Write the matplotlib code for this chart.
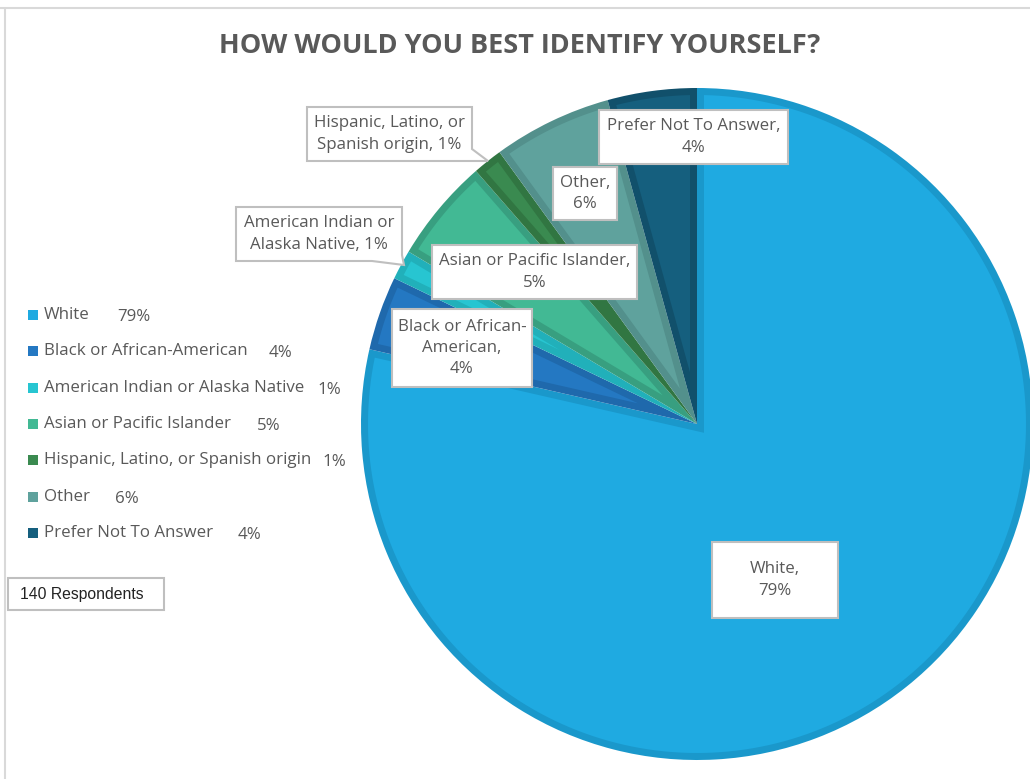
import numpy as np
import matplotlib
matplotlib.use("Agg")
import matplotlib.pyplot as plt
from matplotlib.patches import Rectangle, Polygon

# ---- data ----
categories = ["White", "Black or African-American", "American Indian or Alaska Native",
              "Asian or Pacific Islander", "Hispanic, Latino, or Spanish origin",
              "Other", "Prefer Not To Answer"]
counts = [110, 5, 2, 7, 2, 8, 6]
slice_labels = ["White,\n{p}", "Black or African-\nAmerican,\n{p}", "American Indian or\nAlaska Native, {p}",
                "Asian or Pacific Islander,\n{p}", "Hispanic, Latino, or\nSpanish origin, {p}",
                "Other,\n{p}", "Prefer Not To Answer,\n{p}"]
title = "HOW WOULD YOU BEST IDENTIFY YOURSELF?"
respondents_note = "140 Respondents"

# ---- styles ----
fills = ["#1FAAE1", "#2478C2", "#27C5D1", "#42B994", "#3A8A50", "#5FA29D", "#155F7E"]
edges = ["#1A98CB", "#1F69AC", "#21B0BA", "#389F80", "#317642", "#53908C", "#11506B"]
legend_gaps = [27, 21, 13, 26, 11, 25, 24]
TXT = "#595959"
FONT = "Open Sans"
FS = 12.2

W, H = 1030, 779
total = sum(counts)
pcts = ["{:.0f}%".format(round(100 * c / total)) for c in counts]

fig = plt.figure(figsize=(W / 100, H / 100), dpi=100)
ax = fig.add_axes([0, 0, 1, 1])

def Y(py):
    return H - py

cx, cy, R = 697, 424, 336
band = 7
# outer (darker) wedges drawn by pie
wedges, _ = ax.pie(counts, colors=edges, startangle=90, counterclock=False,
                   center=(cx, Y(cy)), radius=R,
                   wedgeprops=dict(edgecolor="none", linewidth=0))
# lighter inset faces derived from each wedge's own angles
for w, fc in zip(wedges, fills):
    t1, t2 = np.radians(w.theta1), np.radians(w.theta2)
    half = (t2 - t1) / 2
    mid = (t1 + t2) / 2
    ri = R - band
    if half < np.pi / 2:
        apex_d = band / np.sin(half)
        if apex_d >= ri - 4:
            continue
        apex = (cx + apex_d * np.cos(mid), Y(cy) + apex_d * np.sin(mid))
    d = np.arcsin(band / ri)
    angs = np.linspace(t1 + d, t2 - d, 200)
    pts = [(cx + ri * np.cos(a), Y(cy) + ri * np.sin(a)) for a in angs]
    if half >= np.pi / 2:
        n1 = np.array([np.cos(t1 + np.pi / 2), np.sin(t1 + np.pi / 2)])
        n2 = np.array([np.cos(t2 - np.pi / 2), np.sin(t2 - np.pi / 2)])
        u1 = np.array([np.cos(t1), np.sin(t1)])
        u2 = np.array([np.cos(t2), np.sin(t2)])
        A = np.column_stack([u1, -u2])
        b = band * (n2 - n1)
        s, _r = np.linalg.solve(A, b)
        p = np.array([cx, Y(cy)]) + band * n1 + s * u1
        pts = pts + [tuple(p)]
    else:
        pts = pts + [apex]
    ax.add_patch(Polygon(pts, closed=True, fc=fc, ec="none", zorder=2))

ax.set_xlim(0, W)
ax.set_ylim(0, H)
ax.set_aspect("equal")
ax.axis("off")

# ---- data labels (callout boxes) ----
boxes = [(712, 542, 838, 618), (392, 309, 532, 387), (236, 207, 402, 261),
         (432, 245, 637, 299), (307, 107, 472, 161), (553, 167, 617, 220),
         (599, 110, 788, 164)]
pointers = {2: [(402, 255), (404, 265), (372, 261)],
            4: [(472, 149), (488, 161), (458, 161)]}
for i, (x0, y0, x1, y1) in enumerate(boxes):
    if i in pointers:
        p = pointers[i]
        pts = [(x0, y0), (x1, y0), p[0], p[1], p[2], (x0, y1)]
        ax.add_patch(Polygon([(x, Y(y)) for x, y in pts], closed=True, fc="white",
                             ec="#BFBFBF", lw=1.5, zorder=5))
    else:
        ax.add_patch(Rectangle((x0, Y(y1)), x1 - x0, y1 - y0, fc="white",
                               ec="#BFBFBF", lw=1.5, zorder=5))
    ax.text((x0 + x1) / 2, Y((y0 + y1) / 2), slice_labels[i].format(p=pcts[i]),
            ha="center", va="center", fontsize=FS, color=TXT, family=FONT,
            linespacing=1.42, zorder=6)

# ---- title ----
ax.text(520, Y(46), title, ha="center", va="center", fontsize=19.5,
        fontweight="bold", color=TXT, family=FONT)

# ---- legend ----
leg_y0, leg_dy = 315, 36.3
fig.canvas.draw()
r = fig.canvas.get_renderer()
for i, (cat, col) in enumerate(zip(categories, fills)):
    yy = leg_y0 + i * leg_dy
    ax.add_patch(Rectangle((28, Y(yy + 5)), 10, 10, fc=col, ec="none"))
    t = ax.text(44, Y(yy), cat, ha="left", va="center", fontsize=FS,
                color=TXT, family=FONT)
    bb = t.get_window_extent(renderer=r)
    ax.text(bb.x1 + legend_gaps[i], Y(yy + 2), pcts[i], ha="left", va="center",
            fontsize=FS, color=TXT, family=FONT)

# ---- respondents box ----
ax.add_patch(Rectangle((8, Y(610)), 156, 32, fc="white", ec="#BFBFBF", lw=1.5))
ax.text(20, Y(595), respondents_note, ha="left", va="center", fontsize=11.3,
        color="#222222", family="Liberation Sans")

# ---- chart border ----
ax.plot([0, W], [Y(8), Y(8)], color="#D9D9D9", lw=1.5, solid_capstyle="butt")
ax.plot([5, 5], [Y(8), 0], color="#D9D9D9", lw=1.5, solid_capstyle="butt")

fig.savefig("out.png", dpi=100)
